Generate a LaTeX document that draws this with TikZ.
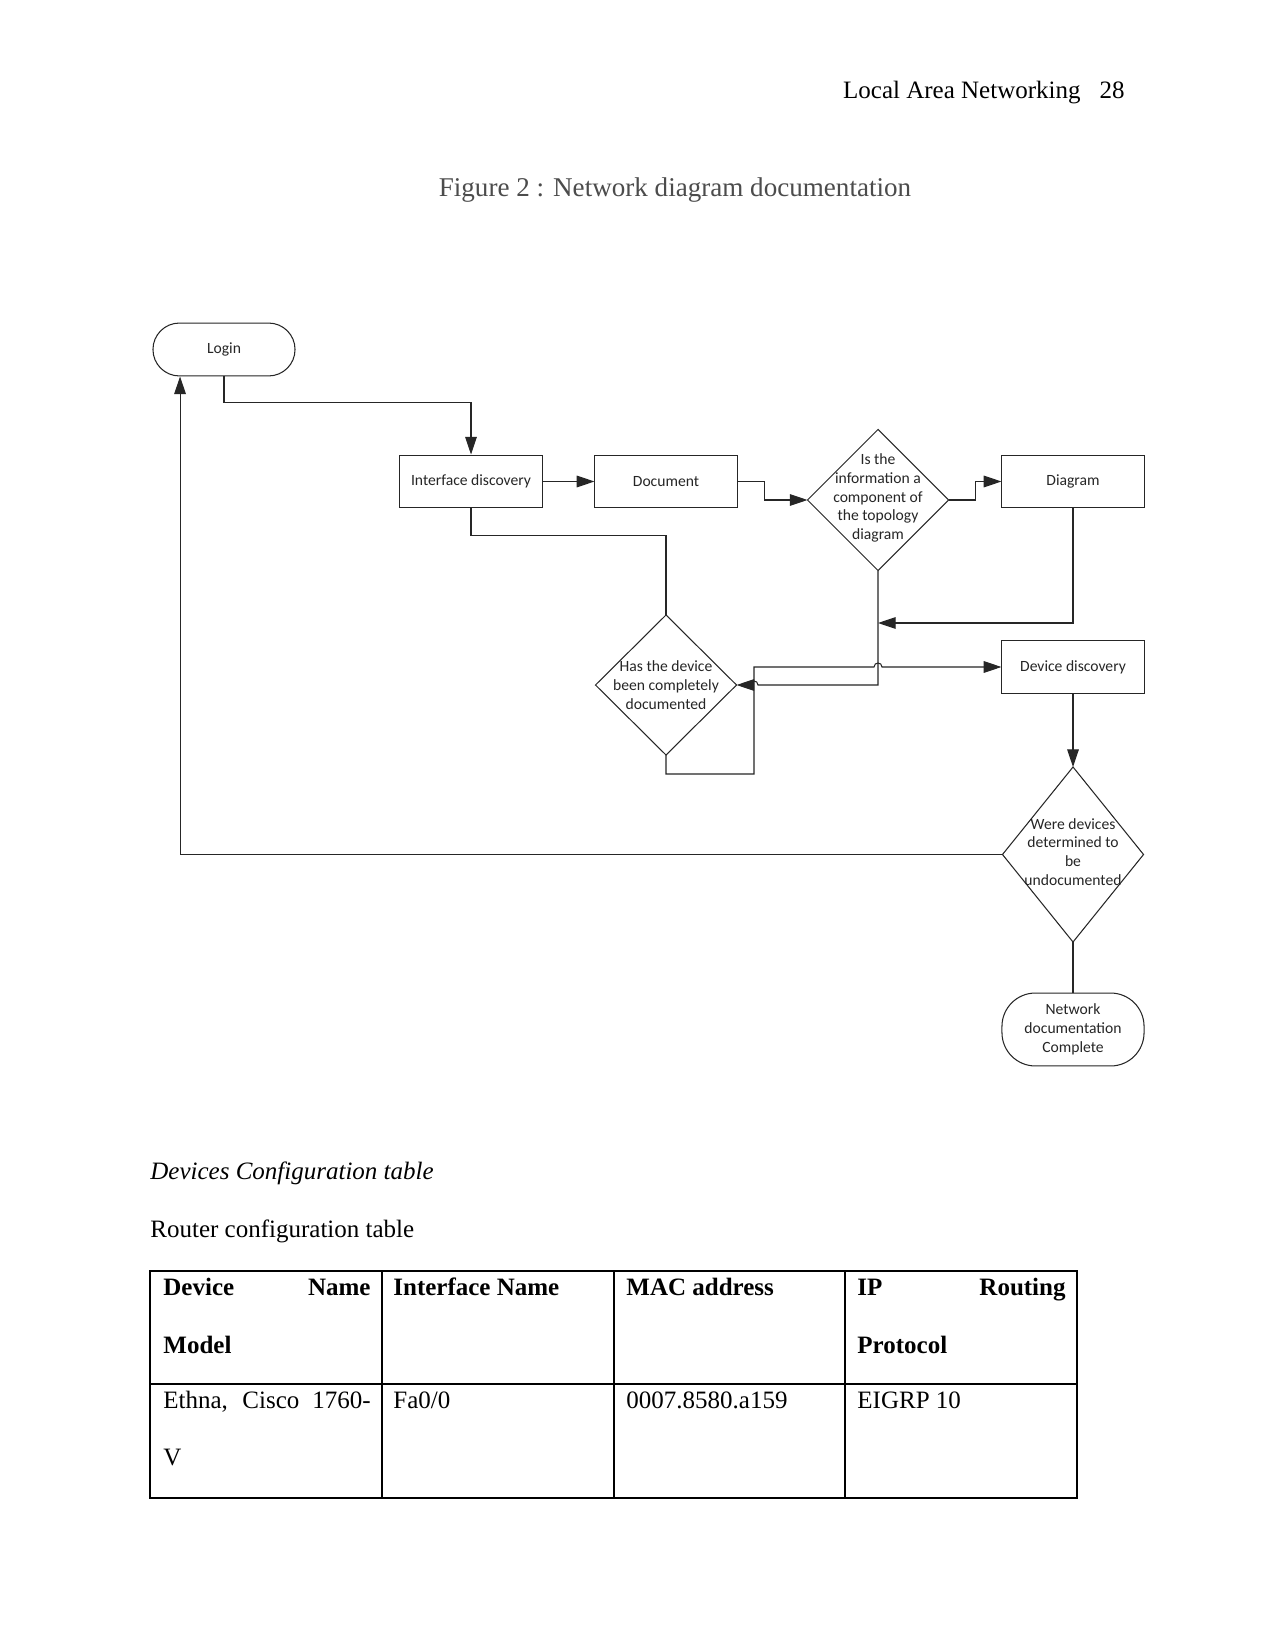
\documentclass[tikz,border=0pt]{standalone}
\usepackage{fontspec}
\setmainfont{Liberation Serif}
\newfontfamily\carlito{Carlito}
\usetikzlibrary{arrows.meta,shapes.geometric,calc}
\begin{document}
\begin{tikzpicture}[x=0.48pt,y=-0.48pt,
  ln/.style={draw=black!85,line width=0.5pt},
  arr/.style={ln,-{Triangle[length=8.5pt,width=5.6pt]}},
  ftxt/.style={font=\carlito\fontsize{7.5}{9}\selectfont,align=center,text=black!85,inner sep=0pt},
  proc/.style={ln,rectangle,minimum width=68.2pt,minimum height=25.4pt,inner sep=0pt,ftxt},
  term/.style={ln,rectangle,rounded corners=12.7pt,minimum width=68.2pt,minimum height=25.4pt,inner sep=0pt,ftxt},
  dia/.style={ln,diamond,inner sep=0pt,outer sep=0pt,minimum width=67.7pt},
  tl/.style={anchor=base west,inner sep=0pt,font=\fontsize{12}{14}\selectfont},
  tr/.style={anchor=base east,inner sep=0pt,font=\fontsize{12}{14}\selectfont},
  tb/.style={draw=black,line width=0.6pt}]
\useasboundingbox (0,0) rectangle (1275,1650);
\fill[white] (0,0) rectangle (1275,1650);

% header and caption
\node[tr] (hdr) at (1081,98.5) {Local Area Networking};
\node[tr] (pg) at (1125,98.5) {28};
\node[anchor=base,inner sep=0pt,font=\fontsize{13}{15}\selectfont,text=black!70] (cap) at (675,197) {Figure 2 : Network diagram documentation};

% flowchart nodes
\node[term] (login) at (224,349.5) {Login};
\node[proc] (ifd) at (471,481.5) {Interface discovery};
\node[proc] (doc) at (666,481.5) {Document};
\node[proc] (diag) at (1073,481.5) {Diagram};
\node[proc] (devd) at (1073,667) {Device discovery};
\node[dia,minimum height=67.7pt] (d1) at (878,500) {};
\node[ftxt] (t1) at (878,498) {Is the\\information a\\component of\\the topology\\diagram};
\node[dia,minimum height=67.2pt] (d2) at (666,685) {};
\node[ftxt] (t2) at (666,685) {Has the device\\been completely\\documented};
\node[dia,minimum height=84pt] (d3) at (1073,854.5) {};
\node[ftxt] (t3) at (1073,852) {Were devices\\determined to\\be\\undocumented};
\node[term,minimum height=35pt,rounded corners=16pt] (ndc) at (1073,1029.5) {Network\\documentation\\Complete};
\coordinate (j1) at (878,623);

% connectors
\draw[arr] (login.south) -- ++(0,26) -| (ifd.north);
\draw[arr] (ifd.east) -- (doc.west);
\draw[arr] (doc.east) -- ++(27,0) |- (d1.west);
\draw[arr] (d1.east) -- ++(27,0) |- (diag.west);
\draw[ln] (ifd.south) -- ++(0,27) -| (d2.north);
\draw[arr] (diag.south) |- (j1);
\draw[arr] (d1.south) -- (d1.south |- d2.east) -- (758,685) .. controls (758,679.7) and (750,679.7) .. (750,685) -- (d2.east);
\draw[arr] (d2.south) -- ++(0,19) -- (754,774) -- (754,667) -- (874,667) .. controls (874,661.7) and (882,661.7) .. (882,667) -- (devd.west);
\draw[arr] (devd.south) -- (d3.north);
\draw[arr] (d3.west) -| ([xshift=-21.1pt]login.south);
\draw[ln] (d3.south) -- (ndc.north);

% text above table
\node[tl,font=\itshape\fontsize{12}{14}\selectfont] (dct) at (150,1179) {Devices Configuration table};
\node[tl] (rct) at (150,1237) {Router configuration table};

% table
\draw[tb] (150,1271) rectangle (1077,1498);
\draw[tb] (150,1384) -- (1077,1384);
\draw[tb] (382,1271) -- (382,1498);
\draw[tb] (614,1271) -- (614,1498);
\draw[tb] (845,1271) -- (845,1498);

\node[tl,font=\bfseries\fontsize{12}{14}\selectfont] (h1a) at (163,1295) {Device};
\node[tr,font=\bfseries\fontsize{12}{14}\selectfont] (h1b) at (371,1295) {Name};
\node[tl,font=\bfseries\fontsize{12}{14}\selectfont] (h1c) at (163,1353) {Model};
\node[tl,font=\bfseries\fontsize{12}{14}\selectfont] (h2) at (393,1295) {Interface Name};
\node[tl,font=\bfseries\fontsize{12}{14}\selectfont] (h3) at (626,1295) {MAC address};
\node[tl,font=\bfseries\fontsize{12}{14}\selectfont] (h4a) at (857,1295) {IP};
\node[tr,font=\bfseries\fontsize{12}{14}\selectfont] (h4b) at (1066,1295) {Routing};
\node[tl,font=\bfseries\fontsize{12}{14}\selectfont] (h4c) at (857,1353) {Protocol};

\node[tl] (c1a) at (163,1408) {Ethna,};
\node[tl] (c1b) at (242,1408) {Cisco};
\node[tr] (c1c) at (371,1408) {1760-};
\node[tl] (c1d) at (163,1465) {V};
\node[tl] (c2) at (393,1408) {Fa0/0};
\node[tl] (c3) at (626,1408) {0007.8580.a159};
\node[tl] (c4) at (857,1408) {EIGRP 10};
\end{tikzpicture}
\end{document}
